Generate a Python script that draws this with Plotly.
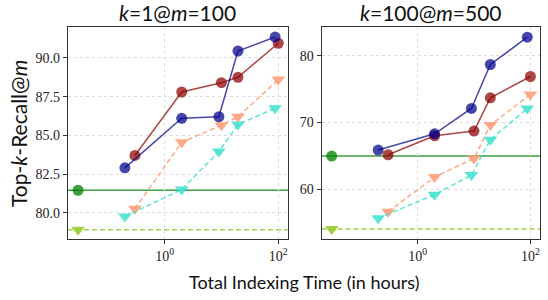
import plotly.graph_objects as go

# ---- data ----
panel_titles = ["<i>k</i>=1@<i>m</i>=100", "<i>k</i>=100@<i>m</i>=500"]

time_a = [0.2, 2.0, 9.0, 19.5, 88]      # blue / turquoise methods
time_b = [0.3, 2.0, 10.0, 19.5, 100]    # red / salmon methods
time_base = [0.03]                       # baseline marker position

blue_1 = [82.9, 86.1, 86.2, 90.45, 91.35]
red_1 = [83.7, 87.8, 88.4, 88.75, 90.95]
salmon_1 = [80.25, 84.55, 85.65, 86.2, 88.6]
cyan_1 = [79.75, 81.5, 83.95, 85.7, 86.75]
green_1 = 81.45
ygreen_1 = 78.9

blue_2 = [65.85, 68.3, 72.1, 78.7, 82.8]
red_2 = [65.15, 68.0, 68.7, 73.7, 76.9]
salmon_2 = [56.6, 61.8, 64.6, 69.6, 74.2]
cyan_2 = [55.6, 59.15, 62.1, 67.4, 72.1]
green_2 = 64.95
ygreen_2 = 54.0

x_tickvals = [1, 100]
x_ticktext = ["10<sup>0</sup>", "10<sup>2</sup>"]
y_ticks_1 = [80.0, 82.5, 85.0, 87.5, 90.0]
y_ticks_2 = [60, 70, 80]

# ---- style ----
C_BLUE = "rgba(0,0,139,0.72)"
C_RED = "rgba(139,0,0,0.72)"
C_SALMON = "rgba(255,160,122,0.9)"
C_CYAN = "rgba(64,224,208,0.85)"
C_GREEN = "rgba(0,128,0,0.75)"
C_YG = "rgba(154,205,50,0.9)"

SERIF = "Liberation Serif, DejaVu Serif, serif"
SANS = "Lato, DejaVu Sans, sans-serif"

fig = go.Figure()

panels = [
    (blue_1, red_1, salmon_1, cyan_1, green_1, ygreen_1, "x", "y"),
    (blue_2, red_2, salmon_2, cyan_2, green_2, ygreen_2, "x2", "y2"),
]

CIRC = 11
TRI = 12
shapes = []
for blue, red, salmon, cyan, green, ygreen, xa, ya in panels:
    fig.add_trace(go.Scatter(x=time_b, y=salmon, mode="lines+markers", xaxis=xa, yaxis=ya,
                             line=dict(color=C_SALMON, width=1.5, dash="5px,3px"),
                             marker=dict(symbol="triangle-down", size=TRI, color=C_SALMON)))
    fig.add_trace(go.Scatter(x=time_a, y=cyan, mode="lines+markers", xaxis=xa, yaxis=ya,
                             line=dict(color=C_CYAN, width=1.5, dash="5px,3px"),
                             marker=dict(symbol="triangle-down", size=TRI, color=C_CYAN)))
    fig.add_trace(go.Scatter(x=time_b, y=red, mode="lines+markers", xaxis=xa, yaxis=ya,
                             line=dict(color=C_RED, width=1.5),
                             marker=dict(symbol="circle", size=CIRC, color=C_RED)))
    fig.add_trace(go.Scatter(x=time_a, y=blue, mode="lines+markers", xaxis=xa, yaxis=ya,
                             line=dict(color=C_BLUE, width=1.5),
                             marker=dict(symbol="circle", size=CIRC, color=C_BLUE)))
    fig.add_trace(go.Scatter(x=time_base, y=[green], mode="markers", xaxis=xa, yaxis=ya,
                             marker=dict(symbol="circle", size=CIRC, color=C_GREEN)))
    fig.add_trace(go.Scatter(x=time_base, y=[ygreen], mode="markers", xaxis=xa, yaxis=ya,
                             marker=dict(symbol="triangle-down", size=TRI, color=C_YG)))
    shapes.append(dict(type="line", xref=f"{xa} domain", yref=ya, x0=0, x1=1, y0=green, y1=green,
                       line=dict(color=C_GREEN, width=1.5), layer="below"))
    shapes.append(dict(type="line", xref=f"{xa} domain", yref=ya, x0=0, x1=1, y0=ygreen, y1=ygreen,
                       line=dict(color=C_YG, width=1.5, dash="5px,3px"), layer="below"))

axis_common = dict(showline=True, linecolor="#333", linewidth=1.2, mirror=True,
                   ticks="outside", ticklen=4, tickcolor="#333",
                   showgrid=True, gridcolor="#dddddd", griddash="3px,3px", gridwidth=1,
                   zeroline=False, tickfont=dict(family=SERIF, size=14, color="#222"))

ann = [
    dict(text=panel_titles[0], xref="paper", yref="paper", x=0.233, y=1.0, yshift=0,
         xanchor="center", yanchor="bottom", showarrow=False,
         font=dict(family=SANS, size=21, color="#111")),
    dict(text=panel_titles[1], xref="paper", yref="paper", x=0.7688, y=1.0, yshift=0,
         xanchor="center", yanchor="bottom", showarrow=False,
         font=dict(family=SANS, size=21, color="#111")),
    dict(text="Top-<i>k</i>-Recall@<i>m</i>", xref="paper", yref="paper", x=-0.106, y=0.5,
         xanchor="center", yanchor="middle", textangle=-90, showarrow=False,
         font=dict(family=SANS, size=21, color="#111")),
    dict(text="Total Indexing Time (in hours)", xref="paper", yref="paper", x=0.5, y=0,
         yshift=-43, xanchor="center", yanchor="middle", showarrow=False,
         font=dict(family=SANS, size=18, color="#111")),
]

fig.update_layout(
    width=548, height=300,
    margin=dict(l=68, r=8, t=27, b=61),
    paper_bgcolor="white", plot_bgcolor="white",
    showlegend=False,
    shapes=shapes,
    annotations=ann,
    xaxis=dict(type="log", domain=[0, 0.466], range=[-1.70, 2.17],
               tickvals=x_tickvals, ticktext=x_ticktext, anchor="y", **axis_common),
    xaxis2=dict(type="log", domain=[0.5375, 1], range=[-1.70, 2.17],
                tickvals=x_tickvals, ticktext=x_ticktext, anchor="y2", **axis_common),
    yaxis=dict(range=[78.3, 92.0], tickvals=y_ticks_1,
               ticktext=[f"{v:.1f}" for v in y_ticks_1], anchor="x", **axis_common),
    yaxis2=dict(range=[52.5, 84.33], tickvals=y_ticks_2,
                ticktext=[str(v) for v in y_ticks_2], anchor="x2", **axis_common),
)

fig.write_html("out.html", config={"displayModeBar": False},
               post_script="document.body.style.margin='0';document.body.style.overflow='hidden';")
